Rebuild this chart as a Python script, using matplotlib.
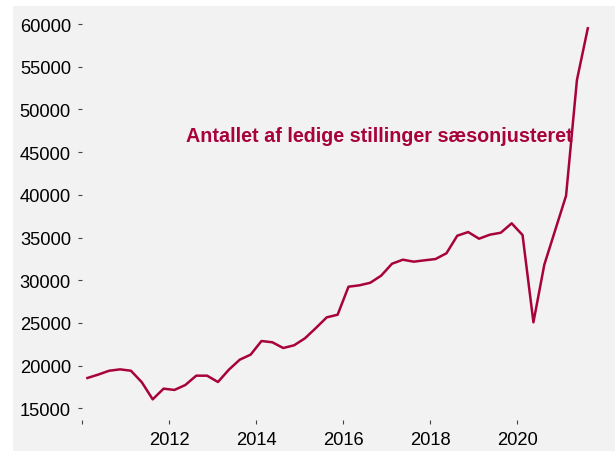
import matplotlib
matplotlib.use("Agg")
import matplotlib.pyplot as plt
from matplotlib.patches import Rectangle
import numpy as np

plt.rcParams['font.family'] = ['Liberation Sans', 'DejaVu Sans']

# quarterly values, 2010Q1 .. 2021Q3 (seasonally adjusted vacancies)
vacancies = [
    18550, 18950, 19400, 19560,   # 2010
    19400, 18050, 16050, 17300,   # 2011
    17150, 17730, 18820, 18820,   # 2012
    18080, 19520, 20690, 21280,   # 2013
    22880, 22730, 22060, 22380,   # 2014
    23200, 24400, 25650, 25960,   # 2015
    29240, 29400, 29700, 30530,   # 2016
    31930, 32400, 32170, 32330,   # 2017
    32480, 33150, 35210, 35640,   # 2018
    34860, 35330, 35560, 36660,   # 2019
    35290, 25070, 31810, 35850,   # 2020
    39890, 53440, 59500,          # 2021
]
# mid-quarter positions as decimal years
quarters = 2010 + 0.125 + 0.25 * np.arange(len(vacancies))

x_ticks = [2010, 2012, 2014, 2016, 2018, 2020]
x_labels = ['', '2012', '2014', '2016', '2018', '2020']
y_ticks = np.arange(15000, 60001, 5000)

title = 'Antallet af ledige stillinger sæsonjusteret'
red = '#a8023c'

fig = plt.figure(figsize=(6.15, 4.52), dpi=100)
fig.patch.set_facecolor('white')
# grey panel behind everything
fig.patches.append(Rectangle((13 / 615, 0), 602 / 615, 445 / 452,
                             transform=fig.transFigure, facecolor='#f2f2f2',
                             edgecolor='none', zorder=-10))

ax = fig.add_axes([82 / 615, 31 / 452, 533 / 615, 414 / 452])
ax.set_facecolor('none')
ax.plot(quarters, vacancies, color=red, lw=1.8)

ax.set_xlim(2010, 2022.25)
ax.set_ylim(13630, 62110)
ax.set_xticks(x_ticks)
ax.set_xticklabels(x_labels)
ax.set_yticks(y_ticks)
ax.set_yticklabels([str(v) for v in y_ticks])
for s in ax.spines.values():
    s.set_visible(False)
ax.tick_params(axis='both', length=3, width=0.8, color='#444444',
               labelsize=13.2, labelcolor='black', pad=5)

ax.text(2016.84, 47000, title, color=red, fontsize=14.2, fontweight='bold',
        ha='center', va='center')

fig.savefig('out.png', dpi=100)
